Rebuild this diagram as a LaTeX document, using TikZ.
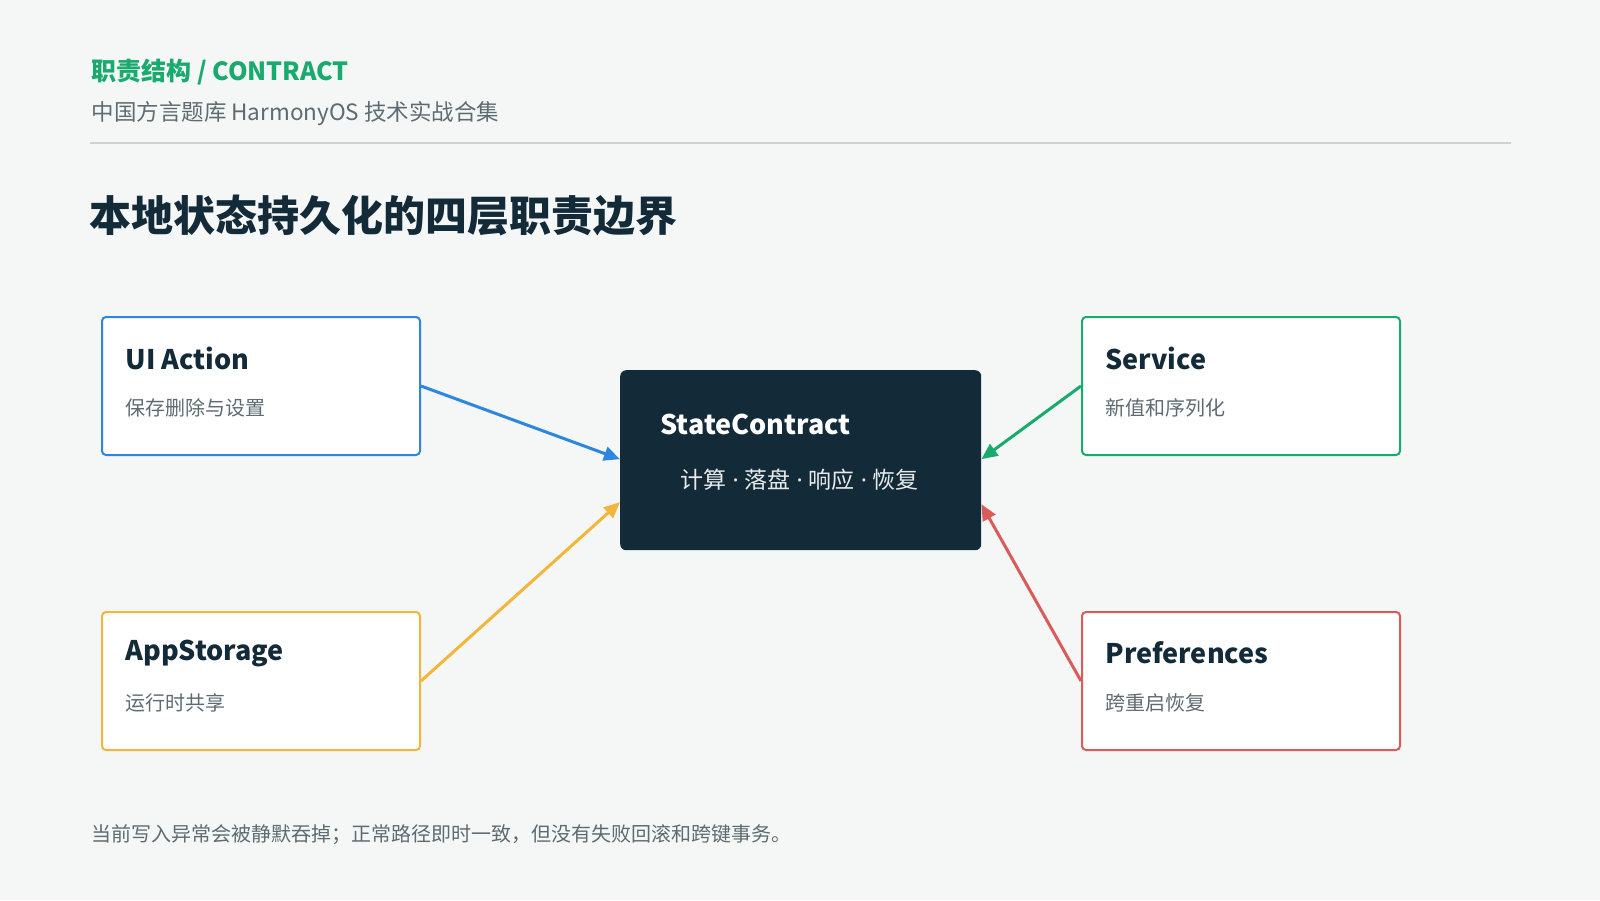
\documentclass[tikz,border=0pt]{standalone}
\usepackage{fontspec}
\setmainfont{Noto Sans CJK SC}
\newfontfamily\latinfont{Noto Sans}
\usetikzlibrary{positioning,arrows.meta,calc}
\definecolor{bgc}{HTML}{F4F7F6}
\definecolor{ink}{HTML}{132A38}
\definecolor{greyt}{HTML}{5E6B72}
\definecolor{cblue}{HTML}{2E86DE}
\definecolor{cgreen}{HTML}{1AAA6E}
\definecolor{cyellow}{HTML}{F2B63C}
\definecolor{cred}{HTML}{DB5A5A}
\newcommand{\mdot}{{\latinfont\ ·\ }}
\tikzset{
    x=1pt, y=-1pt,
    card/.style = {
        draw=#1,
        fill=white,
        line width=2pt,
        rounded corners=4pt,
        minimum width=318pt,
        minimum height=138pt,
        anchor=north west
    },
    core/.style = {
        fill=ink,
        rounded corners=6pt,
        minimum width=361pt,
        minimum height=180pt,
        anchor=north west
    },
    head/.style = {
        anchor=west,
        font=\fontsize{27}{30}\selectfont\bfseries,
        text=ink
    },
    sub/.style = {
        anchor=west,
        font=\fontsize{20}{23}\selectfont,
        text=greyt
    },
    flow/.style = {
        draw=#1,
        line width=3pt,
        -{Triangle[length=16pt,width=14pt]}
    },
}
\begin{document}
\begin{tikzpicture}
                \fill[bgc] (0,0) rectangle (1600,900);
                \useasboundingbox (0,0) rectangle (1600,900);

                \node[anchor=west, text=cgreen, font=\fontsize{25}{28}\selectfont\bfseries] (tag) at (88,72) {职责结构 / CONTRACT};
                \node[sub, font=\fontsize{22.5}{26}\selectfont] (series) at (88,114) {中国方言题库 HarmonyOS 技术实战合集};
                \coordinate (rulel) at (90,143);
                \coordinate (ruler) at (1511,143);
                \draw[line width=1.5pt, color=black!18] (rulel) -- (ruler);
                \node[anchor=west, text=ink, font=\fontsize{42}{48}\selectfont\bfseries] (title) at (86,216) {本地状态持久化的四层职责边界};

                \node[card=cblue] (ui) at (101,316) {};
                \node[card=cgreen] (svc) at (1081,316) {};
                \node[card=cyellow] (app) at (101,611) {};
                \node[card=cred] (pref) at (1081,611) {};
                \node[core] (state) at (620,370) {};

                \node[head] at (122,358) {UI Action};
                \node[sub] at (122,408) {保存删除与设置};
                \node[head] at (1102,358) {Service};
                \node[sub] at (1102,408) {新值和序列化};
                \node[head] at (122,653) {AppStorage};
                \node[sub] at (122,703) {运行时共享};
                \node[head] at (1102,653) {Preferences};
                \node[sub] at (1102,703) {跨重启恢复};

                \node[head, text=white] at (657,424) {StateContract};
                \node[sub, text=white!90!ink, font=\fontsize{23}{26}\selectfont] at (677,480) {计算\mdot 落盘\mdot 响应\mdot 恢复};

                \coordinate (inul) at ($(state.west)+(0,-1)$);
                \coordinate (inll) at ($(state.west)+(0,42)$);
                \coordinate (inur) at ($(state.east)+(0,-1)$);
                \coordinate (inlr) at ($(state.east)+(0,44)$);
                \path[flow=cblue] (ui.east) -- (inul);
                \path[flow=cgreen] (svc.west) -- (inur);
                \path[flow=cyellow] (app.east) -- (inll);
                \path[flow=cred] (pref.west) -- (inlr);

                \node[sub] (note) at (88,835) {当前写入异常会被静默吞掉；正常路径即时一致，但没有失败回滚和跨键事务。};
            \end{tikzpicture}
\end{document}
